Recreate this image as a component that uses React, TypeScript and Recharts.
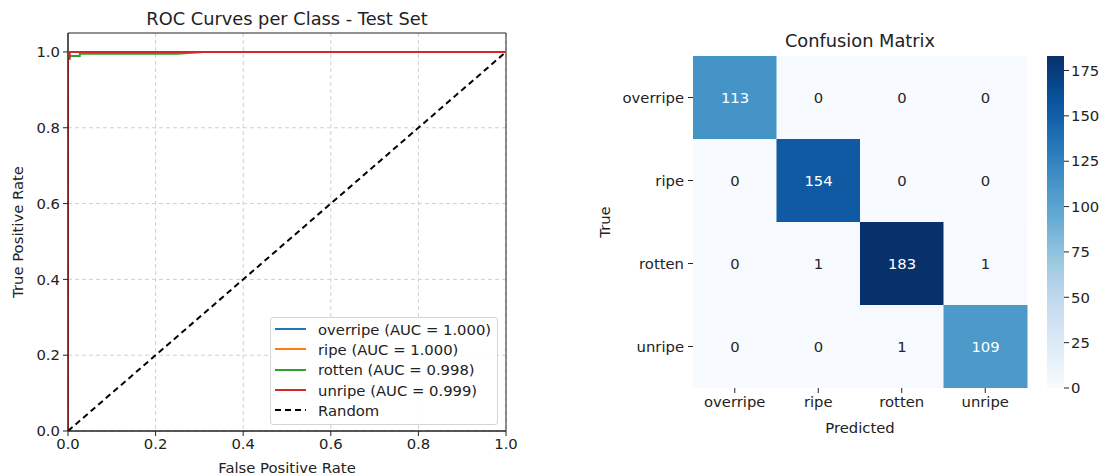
import React from 'react';
import {
  LineChart, Line, XAxis, YAxis, CartesianGrid, ReferenceArea,
  BarChart, Bar, Cell, LabelList, Label,
} from 'recharts';

const FONT = '"DejaVu Sans", Verdana, sans-serif';
const TXT = '#222';
const FS = 14.8;
const TITLE_FS = 17.8;

// ---------- ROC data ----------
const rocOverripe = [ { fpr: 0, tpr: 0 }, { fpr: 0, tpr: 1 }, { fpr: 1, tpr: 1 } ];
const rocRipe = [ { fpr: 0, tpr: 0 }, { fpr: 0, tpr: 1 }, { fpr: 1, tpr: 1 } ];
const rocRotten = [
  { fpr: 0, tpr: 0 }, { fpr: 0, tpr: 0.989 }, { fpr: 0.027, tpr: 0.989 },
  { fpr: 0.027, tpr: 0.995 }, { fpr: 0.25, tpr: 0.995 }, { fpr: 0.31, tpr: 1 }, { fpr: 1, tpr: 1 },
];
const rocUnripe = [
  { fpr: 0, tpr: 0 }, { fpr: 0, tpr: 0.982 }, { fpr: 0.004, tpr: 0.982 },
  { fpr: 0.004, tpr: 1 }, { fpr: 1, tpr: 1 },
];
const rocRandom = [ { fpr: 0, tpr: 0 }, { fpr: 1, tpr: 1 } ];

const rocTicks = [0, 0.2, 0.4, 0.6, 0.8, 1.0];

const rocSeries = [
  { name: 'overripe (AUC = 1.000)', data: rocOverripe, color: '#1f77b4', dash: undefined as string | undefined },
  { name: 'ripe (AUC = 1.000)', data: rocRipe, color: '#ff7f0e', dash: undefined },
  { name: 'rotten (AUC = 0.998)', data: rocRotten, color: '#2ca02c', dash: undefined },
  { name: 'unripe (AUC = 0.999)', data: rocUnripe, color: '#d62728', dash: undefined },
  { name: 'Random', data: rocRandom, color: '#000000', dash: '6 4' },
];

// ---------- Confusion matrix data ----------
const classes = ['overripe', 'ripe', 'rotten', 'unripe'];
const rowOverripe = [113, 0, 0, 0];
const rowRipe = [0, 154, 0, 0];
const rowRotten = [0, 1, 183, 1];
const rowUnripe = [0, 0, 1, 109];
const matrix = [rowOverripe, rowRipe, rowRotten, rowUnripe];
const colorbarTicks = [0, 25, 50, 75, 100, 125, 150, 175];

const vmax = Math.max(...matrix.flat());

// Stack from the bottom row (unripe) to the top row (overripe)
const stackOrder = [3, 2, 1, 0];
const heatData = classes.map((pred, j) => {
  const o: any = { pred };
  classes.forEach((_, i) => {
    o['h' + i] = 1;
    o['c' + i] = matrix[i][j];
  });
  return o;
});

// Blues colormap
const bluesStops = ['#f7fbff', '#deebf7', '#c6dbef', '#9ecae1', '#6baed6', '#4292c6', '#2171b5', '#08519c', '#08306b'];
function hex2rgb(h: string) {
  return [parseInt(h.slice(1, 3), 16), parseInt(h.slice(3, 5), 16), parseInt(h.slice(5, 7), 16)];
}
function blues(t: number) {
  const tt = Math.max(0, Math.min(1, t)) * (bluesStops.length - 1);
  const i = Math.min(bluesStops.length - 2, Math.floor(tt));
  const f = tt - i;
  const a = hex2rgb(bluesStops[i]);
  const b = hex2rgb(bluesStops[i + 1]);
  const c = a.map((v, k) => Math.round(v + (b[k] - v) * f));
  return `rgb(${c[0]},${c[1]},${c[2]})`;
}

const tickStyle = { fontFamily: FONT, fontSize: FS, fill: TXT };

const CellLabel = (props: any) => {
  const { x, y, width, height, value } = props;
  const fill = value / vmax > 0.45 ? '#ffffff' : '#262626';
  return (
    <text x={x + width / 2} y={y + height / 2} textAnchor="middle" dominantBaseline="central"
      fontFamily={FONT} fontSize={FS} fill={fill}>{value}</text>
  );
};

export default function App() {
  return (
    <div style={{ position: 'absolute', left: 0, top: 0, width: 1106, height: 475, background: '#fff', fontFamily: FONT, overflow: 'hidden' }}>
      {/* Left: ROC */}
      <div style={{ position: 'absolute', left: 0, top: 0 }}>
        <LineChart width={560} height={475} margin={{ top: 33, right: 54, bottom: 0, left: 0 }}>
          <CartesianGrid stroke="#d0d0d0" strokeDasharray="4 3" horizontalValues={rocTicks} verticalValues={rocTicks} />
          <XAxis type="number" dataKey="fpr" domain={[0, 1]} ticks={rocTicks} allowDataOverflow
            tickFormatter={(v: number) => v.toFixed(1)} tick={tickStyle} tickSize={5} tickMargin={2}
            stroke="#222" height={44}>
            <Label value="False Positive Rate" position="insideBottom" offset={2}
              style={{ fontFamily: FONT, fontSize: FS, fill: TXT }} />
          </XAxis>
          <YAxis type="number" dataKey="tpr" domain={[0, 1.05]} ticks={rocTicks} allowDataOverflow
            tickFormatter={(v: number) => v.toFixed(1)} tick={tickStyle} tickSize={5} tickMargin={3}
            stroke="#222" width={68}>
            <Label value="True Positive Rate" angle={-90} position="insideLeft" offset={18}
              style={{ fontFamily: FONT, fontSize: FS, fill: TXT, textAnchor: 'middle' }} />
          </YAxis>
          {rocSeries.map((s) => (
            <Line key={s.name} data={s.data} dataKey="tpr" type="linear" stroke={s.color}
              strokeWidth={2} strokeDasharray={s.dash} dot={false} activeDot={false}
              isAnimationActive={false} name={s.name} />
          ))}
          <ReferenceArea x1={0} x2={1} y1={0} y2={1.05} fill="none" stroke="#222" strokeWidth={1} ifOverflow="extendDomain" />
        </LineChart>
      </div>
      <div style={{ position: 'absolute', left: 68, top: 7, width: 438, textAlign: 'center', fontSize: TITLE_FS, lineHeight: '24px', color: TXT }}>
        ROC Curves per Class - Test Set
      </div>
      {/* Legend */}
      <div style={{ position: 'absolute', left: 270, top: 317, width: 228, height: 108, border: '1px solid #d5d5d5', borderRadius: 3, background: 'rgba(255,255,255,0.85)', boxSizing: 'border-box', paddingTop: 1 }}>
        {rocSeries.map((s) => (
          <div key={s.name} style={{ height: 20.3, display: 'flex', alignItems: 'center' }}>
            <svg width={44} height={10} style={{ flex: 'none' }}>
              <line x1={4} x2={35} y1={5} y2={5} stroke={s.color} strokeWidth={2} strokeDasharray={s.dash} />
            </svg>
            <span style={{ fontSize: FS, color: TXT, whiteSpace: 'nowrap', marginLeft: 3 }}>{s.name}</span>
          </div>
        ))}
      </div>

      {/* Right: Confusion matrix */}
      <div style={{ position: 'absolute', left: 560, top: 0 }}>
        <BarChart width={480} height={475} data={heatData} barCategoryGap={0} barGap={0}
          margin={{ top: 56, right: 13, bottom: 37, left: 0 }}>
          <XAxis dataKey="pred" type="category" tick={tickStyle} tickSize={5} tickMargin={3}
            axisLine={false} tickLine={{ stroke: '#222' }} height={50}>
            <Label value="Predicted" position="insideBottom" offset={5}
              style={{ fontFamily: FONT, fontSize: FS, fill: TXT }} />
          </XAxis>
          <YAxis type="number" domain={[0, 4]} ticks={[0.5, 1.5, 2.5, 3.5]}
            tickFormatter={(v: number) => classes[3 - Math.floor(v)]} tick={tickStyle}
            tickSize={5} tickMargin={4} axisLine={false} tickLine={{ stroke: '#222' }} width={133}>
            <Label value="True" angle={-90} position="insideLeft" offset={45}
              style={{ fontFamily: FONT, fontSize: FS, fill: TXT, textAnchor: 'middle' }} />
          </YAxis>
          {stackOrder.map((i) => (
            <Bar key={i} dataKey={'h' + i} stackId="cm" isAnimationActive={false}>
              {heatData.map((d, j) => (
                <Cell key={j} fill={blues(matrix[i][j] / vmax)} />
              ))}
              <LabelList dataKey={'c' + i} content={CellLabel} />
            </Bar>
          ))}
        </BarChart>
      </div>
      <div style={{ position: 'absolute', left: 693, top: 29, width: 334, textAlign: 'center', fontSize: TITLE_FS, lineHeight: '24px', color: TXT }}>
        Confusion Matrix
      </div>

      {/* Colorbar */}
      <div style={{ position: 'absolute', left: 1040, top: 0 }}>
        <BarChart width={66} height={475} data={[{ name: 'cb', v: vmax }]} barCategoryGap={0}
          margin={{ top: 56, right: 0, bottom: 87, left: 7 }}>
          <defs>
            <linearGradient id="cbGrad" x1="0" y1="1" x2="0" y2="0">
              {bluesStops.map((c, k) => (
                <stop key={k} offset={`${(k / (bluesStops.length - 1)) * 100}%`} stopColor={c} />
              ))}
            </linearGradient>
          </defs>
          <XAxis dataKey="name" type="category" hide />
          <YAxis orientation="right" type="number" domain={[0, vmax]} ticks={colorbarTicks}
            tick={tickStyle} tickSize={5} tickMargin={2} axisLine={false} tickLine={{ stroke: '#222' }} width={42} />
          <Bar dataKey="v" fill="url(#cbGrad)" isAnimationActive={false} />
        </BarChart>
      </div>
    </div>
  );
}
